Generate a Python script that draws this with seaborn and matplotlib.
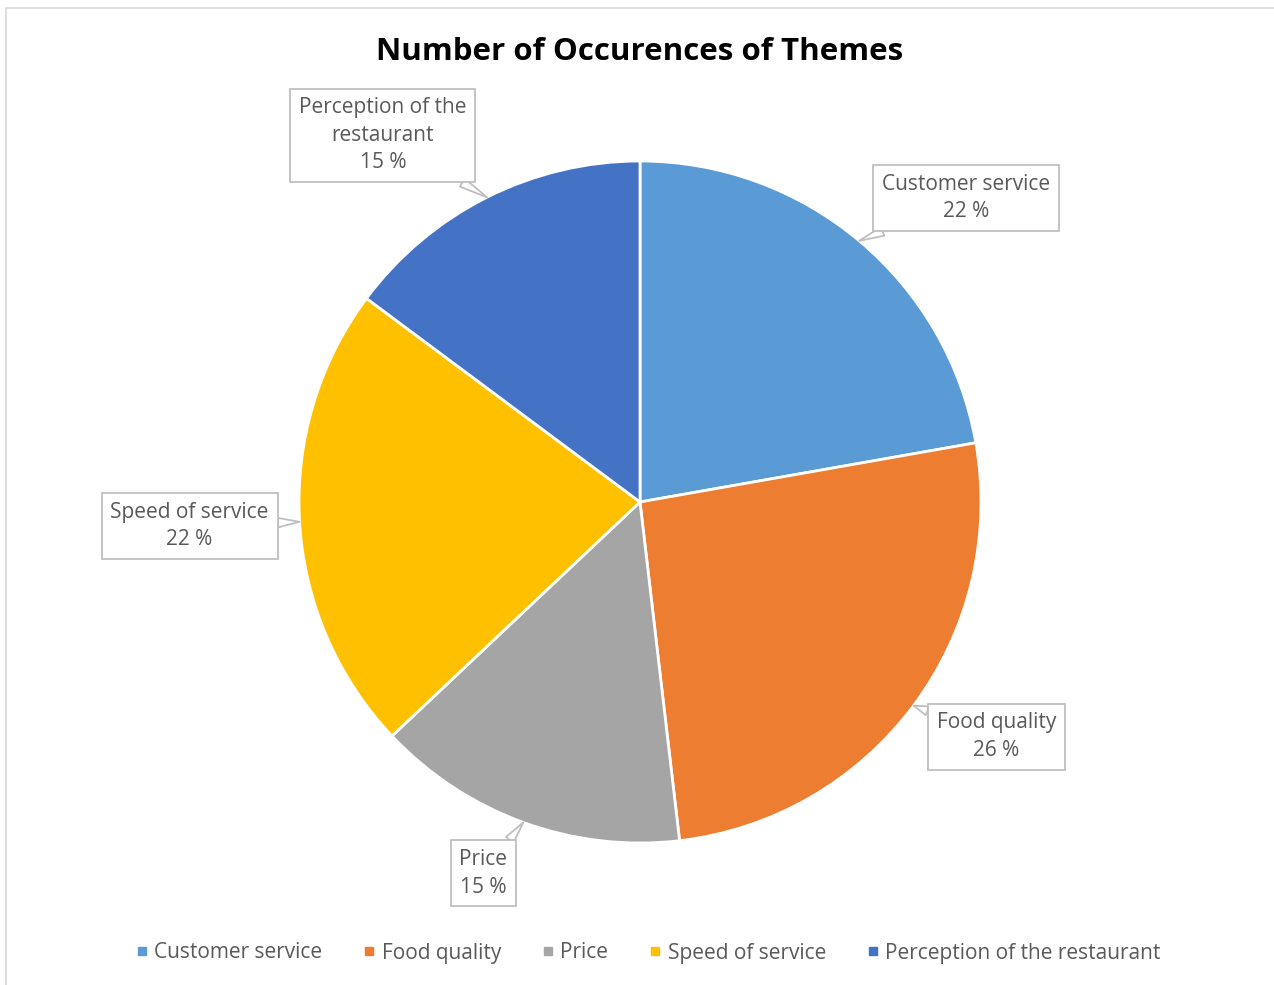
import numpy as np
import matplotlib
matplotlib.use("Agg")
import matplotlib.pyplot as plt
from matplotlib.lines import Line2D
from matplotlib.patches import Rectangle
import seaborn as sns

# ---- data ----
themes = ["Customer service", "Food quality", "Price", "Speed of service",
          "Perception of the restaurant"]
label_names = ["Customer service", "Food quality", "Price", "Speed of service",
               "Perception of the\nrestaurant"]
counts = [6, 7, 4, 6, 4]
title = "Number of Occurences of Themes"

# ---- style ----
colors = ["#5B9BD5", "#ED7D31", "#A5A5A5", "#FFC000", "#4472C4"]
sns.set_theme(style="white")
plt.rcParams["font.family"] = ["Open Sans", "DejaVu Sans"]
txt_color = "#595959"

W, H, DPI = 1274, 985, 100
cx, cy, R = 640, 502, 341
fig = plt.figure(figsize=(W / DPI, H / DPI), dpi=DPI)
fig.patch.set_facecolor("white")
fig.add_artist(Rectangle((6 / W, -0.05), 1.2, 1 - 8 / H + 0.05,
                         transform=fig.transFigure, fill=False,
                         edgecolor="#d9d9d9", linewidth=1.2))

ax = fig.add_axes([0, 0, 1, 1])
wedges, _ = ax.pie(counts, colors=colors, startangle=90, counterclock=False,
                   radius=1.0,
                   wedgeprops=dict(edgecolor="white", linewidth=2))
ax.set_xlim(-cx / R, (W - cx) / R)
ax.set_ylim(-(H - cy) / R, cy / R)
ax.set_aspect("equal")
ax.axis("off")

# label box offsets (pixels) relative to tip on slice edge
offsets = [(107, 43), (83, -31), (-40, -51), (-110, -4), (-104, 62)]
total = sum(counts)
cum = np.cumsum([0] + counts)
fs = 15
for i, (name, c) in enumerate(zip(label_names, counts)):
    mid = (cum[i] + c / 2) / total * 2 * np.pi  # clockwise from 12 o'clock
    tx, ty = np.sin(mid), np.cos(mid)
    pct = round(c / total * 100)
    ax.annotate(f"{name}\n{pct} %", xy=(tx * 1.0, ty * 1.0),
                xytext=offsets[i], textcoords="offset pixels",
                ha="center", va="center", fontsize=fs, color=txt_color,
                linespacing=1.4,
                bbox=dict(boxstyle="square,pad=0.42", fc="white",
                          ec="#bfbfbf", lw=1.3),
                arrowprops=dict(arrowstyle="wedge,tail_width=0.45,shrink_factor=0.5",
                                fc="white", ec="#bfbfbf", lw=1.3,
                                shrinkA=0, shrinkB=0))

fig.text(cx / W, 1 - 52 / H, title, ha="center", va="center",
         fontsize=22.5, fontweight="bold", color="black")

handles = [Line2D([0], [0], marker="s", linestyle="none", markersize=6,
                  markerfacecolor=col, markeredgecolor=col) for col in colors]
leg = fig.legend(handles, themes, loc="center", bbox_to_anchor=(646 / W, 1 - 953 / H),
                 ncol=5, frameon=False, fontsize=fs, handletextpad=0.1,
                 columnspacing=1.75, handlelength=1.0)
for t in leg.get_texts():
    t.set_color(txt_color)

fig.savefig("out.png", dpi=DPI)
